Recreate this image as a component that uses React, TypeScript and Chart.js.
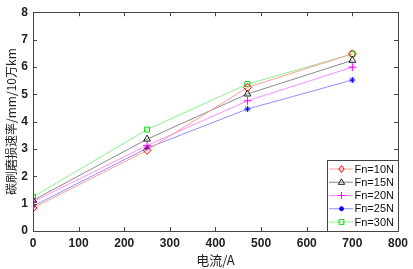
import React, { useEffect, useRef } from "react";
import { Chart, registerables } from "chart.js";

Chart.register(...registerables);

const currents = [0, 250, 470, 700];
const fn10 = [0.84, 2.95, 5.25, 6.48];
const fn15 = [1.12, 3.36, 5.01, 6.24];
const fn20 = [1.07, 3.13, 4.76, 5.99];
const fn25 = [0.91, 3.03, 4.46, 5.52];
const fn30 = [1.25, 3.71, 5.37, 6.47];
const seriesNames = ["Fn=10N", "Fn=15N", "Fn=20N", "Fn=25N", "Fn=30N"];
const xTicks = [0, 100, 200, 300, 400, 500, 600, 700, 800];
const yTicks = [0, 1, 2, 3, 4, 5, 6, 7, 8];

const lineColors = ["#ff9a9a", "#8a8a8a", "#ff8cff", "#8f8fff", "#8cf08c"];
const markColors = ["#ff0000", "#222222", "#ff00ff", "#0000ff", "#00dd00"];
const styles: any[] = ["rectRot", "triangle", "cross", "star", "rect"];
const fills = ["rgba(0,0,0,0)", "rgba(0,0,0,0)", "rgba(0,0,0,0)", "#0000ff", "rgba(0,0,0,0)"];
const radii = [4, 4, 4, 3, 3.5];

function drawMarker(ctx: any, style: string, x: number, y: number, r: number, stroke: string, fill: string) {
  ctx.save();
  ctx.strokeStyle = stroke;
  ctx.fillStyle = fill;
  ctx.lineWidth = 1;
  ctx.beginPath();
  if (style === "rectRot") {
    ctx.moveTo(x, y - r); ctx.lineTo(x + r * 0.75, y); ctx.lineTo(x, y + r); ctx.lineTo(x - r * 0.75, y); ctx.closePath();
    ctx.fill(); ctx.stroke();
  } else if (style === "triangle") {
    ctx.moveTo(x, y - r); ctx.lineTo(x + r * 0.9, y + r * 0.6); ctx.lineTo(x - r * 0.9, y + r * 0.6); ctx.closePath();
    ctx.fill(); ctx.stroke();
  } else if (style === "cross") {
    ctx.moveTo(x - r, y); ctx.lineTo(x + r, y); ctx.moveTo(x, y - r); ctx.lineTo(x, y + r); ctx.stroke();
  } else if (style === "star") {
    ctx.arc(x, y, r * 0.8, 0, Math.PI * 2); ctx.fill(); ctx.stroke();
  } else {
    ctx.rect(x - r * 0.8, y - r * 0.8, r * 1.6, r * 1.6); ctx.fill(); ctx.stroke();
  }
  ctx.restore();
}

const boxPlugin = {
  id: "boxPlugin",
  afterDraw(chart: any) {
    const { ctx, chartArea: a, scales } = chart;
    const x = scales.x, y = scales.y;
    ctx.save();
    ctx.strokeStyle = "#444";
    ctx.lineWidth = 1;
    ctx.strokeRect(Math.round(a.left) + 0.5, Math.round(a.top) + 0.5, Math.round(a.right - a.left), Math.round(a.bottom - a.top));
    ctx.beginPath();
    const tl = 4;
    for (const v of xTicks) {
      const px = Math.round(x.getPixelForValue(v)) + 0.5;
      ctx.moveTo(px, a.bottom); ctx.lineTo(px, a.bottom - tl);
      ctx.moveTo(px, a.top); ctx.lineTo(px, a.top + tl);
    }
    for (const v of yTicks) {
      const py = Math.round(y.getPixelForValue(v)) + 0.5;
      ctx.moveTo(a.left, py); ctx.lineTo(a.left + tl, py);
      ctx.moveTo(a.right, py); ctx.lineTo(a.right - tl, py);
    }
    ctx.stroke();

    // legend
    const lw = 71, lh = 71;
    const lx = Math.round(a.right) - lw, ly = Math.round(a.bottom) - lh;
    ctx.fillStyle = "#fff";
    ctx.fillRect(lx, ly, lw, lh);
    ctx.strokeStyle = "#444";
    ctx.strokeRect(lx + 0.5, ly + 0.5, lw, lh);
    ctx.font = "11px 'Liberation Sans', Arial, sans-serif";
    ctx.textBaseline = "middle";
    chart.data.datasets.forEach((ds: any, i: number) => {
      const cy = ly + 9 + i * 13.25;
      ctx.strokeStyle = lineColors[i];
      ctx.lineWidth = 1;
      ctx.beginPath();
      ctx.moveTo(lx + 2, cy); ctx.lineTo(lx + 26, cy);
      ctx.stroke();
      drawMarker(ctx, styles[i], lx + 14.5, cy, radii[i] - 0.5, markColors[i], fills[i]);
      ctx.fillStyle = "#111";
      ctx.fillText(seriesNames[i], lx + 27.5, cy + 0.5);
    });
    ctx.restore();
  },
};

export default function App() {
  const ref = useRef<HTMLCanvasElement>(null);
  useEffect(() => {
    document.body.style.margin = "0";
    const all = [fn10, fn15, fn20, fn25, fn30];
    const tickFont = { family: "'Liberation Sans', Arial, sans-serif", size: 12, weight: "bold" as const };
    const chart = new Chart(ref.current!, {
      type: "line",
      data: {
        datasets: all.map((vals, i) => ({
          label: seriesNames[i],
          data: currents.map((c, j) => ({ x: c, y: vals[j] })),
          borderColor: lineColors[i],
          borderWidth: 1,
          pointStyle: styles[i],
          pointRadius: radii[i],
          pointBorderColor: markColors[i],
          pointBackgroundColor: fills[i],
          pointBorderWidth: 1,
          tension: 0,
        })),
      },
      options: {
        animation: false,
        responsive: false,
        maintainAspectRatio: false,
        layout: { padding: { left: 0, top: 9, right: 15, bottom: 0 } },
        plugins: { legend: { display: false }, tooltip: { enabled: false } },
        scales: {
          x: {
            type: "linear",
            min: 0,
            max: 800,
            afterBuildTicks: (s: any) => { s.ticks = xTicks.map((v) => ({ value: v })); },
            afterFit: (s: any) => { s.height = 38; },
            grid: { display: false, drawTicks: false },
            border: { display: false },
            ticks: { padding: 5, color: "#222", font: tickFont, maxRotation: 0 },
            title: {
              display: true,
              text: "电流/A",
              color: "#222",
              padding: { top: 0, bottom: 1 },
              font: { family: "'Noto Sans CJK SC', sans-serif", size: 13 },
            },
          },
          y: {
            type: "linear",
            min: 0,
            max: 8,
            afterBuildTicks: (s: any) => { s.ticks = yTicks.map((v) => ({ value: v })); },
            afterFit: (s: any) => { s.width = 33; },
            grid: { display: false, drawTicks: false },
            border: { display: false },
            ticks: { padding: 5, color: "#222", font: tickFont },
            title: {
              display: true,
              text: "碳刷磨损速率/mm/10万km",
              color: "#222",
              padding: { top: 4, bottom: 0 },
              font: { family: "'Noto Sans CJK SC', sans-serif", size: 12 },
            },
          },
        },
      },
      plugins: [boxPlugin],
    });
    return () => chart.destroy();
  }, []);
  return (
    <div style={{ position: "absolute", left: 0, top: 0, width: 413, height: 269, background: "#fff" }}>
      <canvas ref={ref} width={413} height={269} style={{ width: 413, height: 269 }} />
    </div>
  );
}
